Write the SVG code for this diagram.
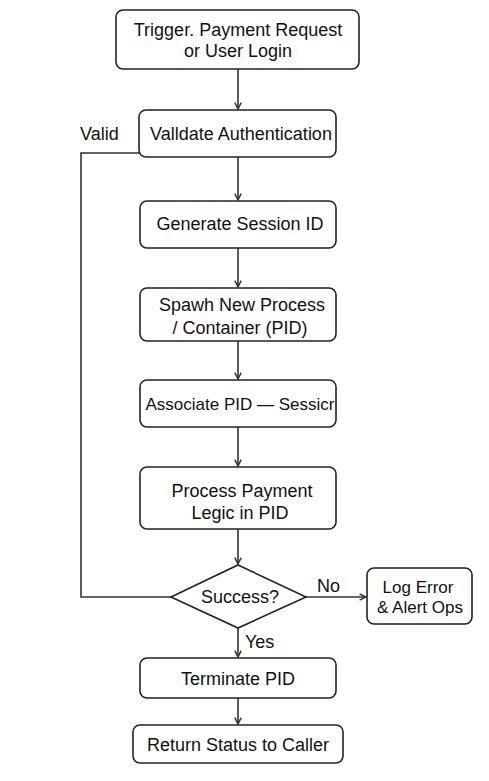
<svg xmlns="http://www.w3.org/2000/svg" width="489" height="781" viewBox="0 0 489 781">
<style>
.b{fill:#fff;stroke:#222;stroke-width:1.6}
.t{font-family:"Liberation Sans",Arial,sans-serif;font-size:18px;fill:#111;text-anchor:middle}
.s{font-size:17px}
.l{font-family:"Liberation Sans",Arial,sans-serif;font-size:18px;fill:#111}
.c{fill:none;stroke:#333;stroke-width:1.6}
</style>
<defs>
<marker id="a" viewBox="0 0 10 10" refX="9" refY="5" markerWidth="8" markerHeight="8" markerUnits="userSpaceOnUse" orient="auto">
<path d="M1,1 L9,5 L1,9" fill="none" stroke="#333" stroke-width="1.8"/>
</marker>
</defs>
<rect width="489" height="781" fill="#fff"/>
<g id="connectors">
<line class="c" x1="238" y1="69" x2="238" y2="109" marker-end="url(#a)"/>
<line class="c" x1="238" y1="157" x2="238" y2="200" marker-end="url(#a)"/>
<line class="c" x1="238" y1="248" x2="238" y2="287" marker-end="url(#a)"/>
<line class="c" x1="238" y1="341" x2="238" y2="379" marker-end="url(#a)"/>
<line class="c" x1="238" y1="427" x2="238" y2="466" marker-end="url(#a)"/>
<line class="c" x1="238" y1="529" x2="238" y2="564" marker-end="url(#a)"/>
<line class="c" x1="306" y1="597" x2="366" y2="597" marker-end="url(#a)"/>
<line class="c" x1="238" y1="628" x2="238" y2="657" marker-end="url(#a)"/>
<line class="c" x1="238" y1="698" x2="238" y2="724" marker-end="url(#a)"/>
<polyline class="c" points="139,153 81,153 81,597 171,597"/>
<text class="l" x="80" y="140">Valid</text>
<text class="l" x="317" y="592">No</text>
<text class="l" x="245" y="648">Yes</text>
</g>
<g id="trigger">
<rect class="b" x="116" y="10" width="243" height="59" rx="7"/>
<text class="t" x="238" y="36">Trigger.  Payment Request</text>
<text class="t" x="238" y="57">or User Login</text>
</g>
<g id="validate">
<rect class="b" x="139" y="110" width="197" height="47" rx="7"/>
<text class="t" x="241" y="140">Valldate Authentication</text>
</g>
<g id="session">
<rect class="b" x="140" y="201" width="196" height="47" rx="7"/>
<text class="t" x="240" y="230">Generate Session ID</text>
</g>
<g id="spawn">
<rect class="b" x="140" y="288" width="196" height="53" rx="7"/>
<text class="t" x="242" y="311">Spawh New Process</text>
<text class="t" x="240" y="334">/ Container (PID)</text>
</g>
<g id="associate">
<rect class="b" x="140" y="380" width="196" height="47" rx="7"/>
<text class="t s" x="240" y="410">Associate PID — Sessicr</text>
</g>
<g id="process">
<rect class="b" x="140" y="467" width="196" height="62" rx="7"/>
<text class="t" x="242" y="497">Process Payment</text>
<text class="t" x="240" y="519">Legic in PID</text>
</g>
<g id="success">
<polygon class="b" points="238,565 306,597 238,628 171,597"/>
<text class="t" x="240" y="603">Success?</text>
</g>
<g id="logerror">
<rect class="b" x="367" y="568" width="105" height="56" rx="7"/>
<text class="t s" x="418" y="593">Log Error</text>
<text class="t s" x="420" y="613">&amp; Alert Ops</text>
</g>
<g id="terminate">
<rect class="b" x="140" y="658" width="196" height="40" rx="7"/>
<text class="t" x="238" y="685">Terminate PID</text>
</g>
<g id="return">
<rect class="b" x="133" y="725" width="210" height="38" rx="7"/>
<text class="t" x="238" y="751">Return Status to Caller</text>
</g>
</svg>
